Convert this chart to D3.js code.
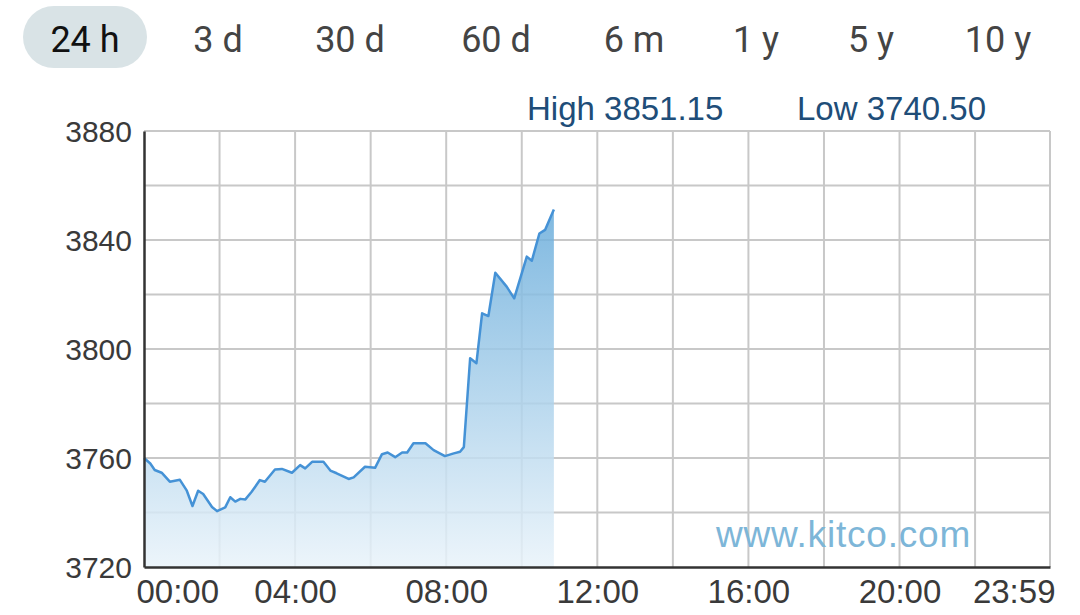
<!DOCTYPE html>
<html>
<head>
<meta charset="utf-8">
<script src="https://cdn.jsdelivr.net/npm/d3@7"></script>
<style>
  body { margin: 0; background: #fff; }
  svg { display: block; }
</style>
</head>
<body>
<svg id="chart"></svg>
<script>
// tabs across the top
const tabs = ['24 h', '3 d', '30 d', '60 d', '6 m', '1 y', '5 y', '10 y']
const tabCenters = [85, 218, 350, 496, 634, 756, 871, 998]

// minutes after 00:00 and gold price
const minutes = [0, 10, 17, 28, 41, 57, 68, 77, 86, 94, 108, 116, 129, 137, 145, 153, 161, 171, 184, 192,
  208, 219, 235, 248, 256, 267, 285, 296, 306, 325, 333, 351, 367, 378, 387, 399, 410, 418, 428, 447,
  460, 478, 492, 502, 508, 518, 528, 537, 547, 558, 576, 588, 608, 616, 628, 637, 651]
const prices = [3760, 3758, 3755.6, 3754.6, 3751.3, 3752, 3748, 3742.4, 3748, 3746.8, 3742, 3740.5, 3741.9, 3745.6, 3744, 3745, 3744.8, 3747.6, 3751.9, 3751.3,
  3755.8, 3756, 3754.6, 3757.4, 3756.2, 3758.6, 3758.6, 3755.4, 3754.4, 3752.3, 3752.9, 3756.8, 3756.4, 3761.4, 3762, 3760.3, 3762, 3762, 3765.4, 3765.4,
  3762.9, 3760.7, 3761.7, 3762.3, 3764, 3796.6, 3794.8, 3813.1, 3812.1, 3828, 3822.9, 3818.6, 3833.9, 3832.4, 3842.4, 3843.7, 3851.15]

const yTicks = [3720, 3760, 3800, 3840, 3880]
const xTicks = [0, 240, 480, 720, 960, 1200, 1439]
const xTickLabels = ['00:00', '04:00', '08:00', '12:00', '16:00', '20:00', '23:59']
const highLabel = 'High 3851.15'
const lowLabel = 'Low 3740.50'

const W = 1080, H = 615
const svg = d3.select('#chart').attr('width', W).attr('height', H)

const plot = { left: 144, right: 1050, top: 131, bottom: 567 }
const axisFont = "'Liberation Sans', Arial, sans-serif"

// TABS
const tabG = svg.append('g')
tabG.append('rect')
  .attr('x', 23).attr('y', 6).attr('width', 124).attr('height', 62)
  .attr('rx', 31).attr('fill', '#d9e3e6')
tabG.selectAll('text')
  .data(tabs)
  .enter()
  .append('text')
  .attr('x', (d, i) => tabCenters[i])
  .attr('y', 52)
  .attr('text-anchor', 'middle')
  .attr('font-family', "Roboto, 'Open Sans', sans-serif")
  .attr('font-size', 36)
  .attr('fill', (d, i) => i === 0 ? '#111' : '#444')
  .text(d => d)

// SCALES
const x = d3.scaleLinear().domain([0, 1439]).range([plot.left, plot.right])
const y = d3.scaleLinear().domain([3720, 3880]).range([plot.bottom, plot.top])

// GRID
const grid = svg.append('g').attr('stroke', '#c8c8c8').attr('stroke-width', 2)
grid.selectAll('line.v')
  .data(d3.range(120, 1440, 120).concat([1439]))
  .enter()
  .append('line')
  .attr('x1', d => x(d)).attr('x2', d => x(d))
  .attr('y1', plot.top).attr('y2', plot.bottom)
grid.selectAll('line.h')
  .data(d3.range(3740, 3881, 20))
  .enter()
  .append('line')
  .attr('x1', plot.left).attr('x2', plot.right)
  .attr('y1', d => y(d)).attr('y2', d => y(d))

// AREA
const pts = minutes.map((m, i) => ({ m: m, p: prices[i] }))
const defs = svg.append('defs')
const grad = defs.append('linearGradient')
  .attr('id', 'fillGrad')
  .attr('gradientUnits', 'userSpaceOnUse')
  .attr('x1', 0).attr('x2', 0)
  .attr('y1', plot.top).attr('y2', plot.bottom)
grad.append('stop').attr('offset', '0%').attr('stop-color', '#4d9dd4')
grad.append('stop').attr('offset', '100%').attr('stop-color', '#e9f3fa')

const area = d3.area()
  .x(d => x(d.m))
  .y0(y(3720))
  .y1(d => y(d.p))
svg.append('path')
  .datum(pts)
  .attr('d', area)
  .attr('fill', 'url(#fillGrad)')
  .attr('opacity', 0.85)

const line = d3.line()
  .x(d => x(d.m))
  .y(d => y(d.p))
svg.append('path')
  .datum(pts)
  .attr('d', line)
  .attr('fill', 'none')
  .attr('stroke', '#4592d6')
  .attr('stroke-width', 2.5)
  .attr('stroke-linejoin', 'round')

// AXES
const yAxis = d3.axisLeft(y).tickValues(yTicks).tickSize(0).tickPadding(12)
  .tickFormat(d3.format('d'))
svg.append('g')
  .attr('transform', `translate(${plot.left},0)`)
  .call(yAxis)
  .call(g => g.select('.domain').attr('stroke', '#333').attr('stroke-width', 2.5))
  .call(g => g.selectAll('text')
    .attr('font-family', axisFont)
    .attr('font-size', 30)
    .attr('fill', '#3a3a3a')
    .attr('dy', '0.36em'))

const xAxis = d3.axisBottom(x).tickValues(xTicks).tickSize(0).tickPadding(12)
  .tickFormat((d, i) => xTickLabels[i])
svg.append('g')
  .attr('transform', `translate(0,${plot.bottom})`)
  .call(xAxis)
  .call(g => g.select('.domain').attr('stroke', '#333').attr('stroke-width', 2.5))
  .call(g => g.selectAll('text')
    .attr('font-family', axisFont)
    .attr('font-size', 33)
    .attr('fill', '#3a3a3a')
    .attr('dy', '0.72em')
    .attr('text-anchor', (d, i) => i === 0 ? 'start' : (i === xTicks.length - 1 ? 'end' : 'middle'))
    .attr('dx', (d, i) => i === 0 ? -8 : (i === xTicks.length - 1 ? 5 : 0)))

// HIGH / LOW
svg.append('text')
  .attr('x', 527).attr('y', 120)
  .attr('font-family', axisFont).attr('font-size', 33)
  .attr('fill', '#204d78')
  .text(highLabel)
svg.append('text')
  .attr('x', 797).attr('y', 120)
  .attr('font-family', axisFont).attr('font-size', 33)
  .attr('fill', '#204d78')
  .text(lowLabel)

// WATERMARK
svg.append('text')
  .attr('x', 716).attr('y', 547)
  .attr('font-family', axisFont).attr('font-size', 37)
  .attr('letter-spacing', 0.8)
  .attr('fill', '#7db6d8')
  .text('www.kitco.com')
</script>
</body>
</html>
